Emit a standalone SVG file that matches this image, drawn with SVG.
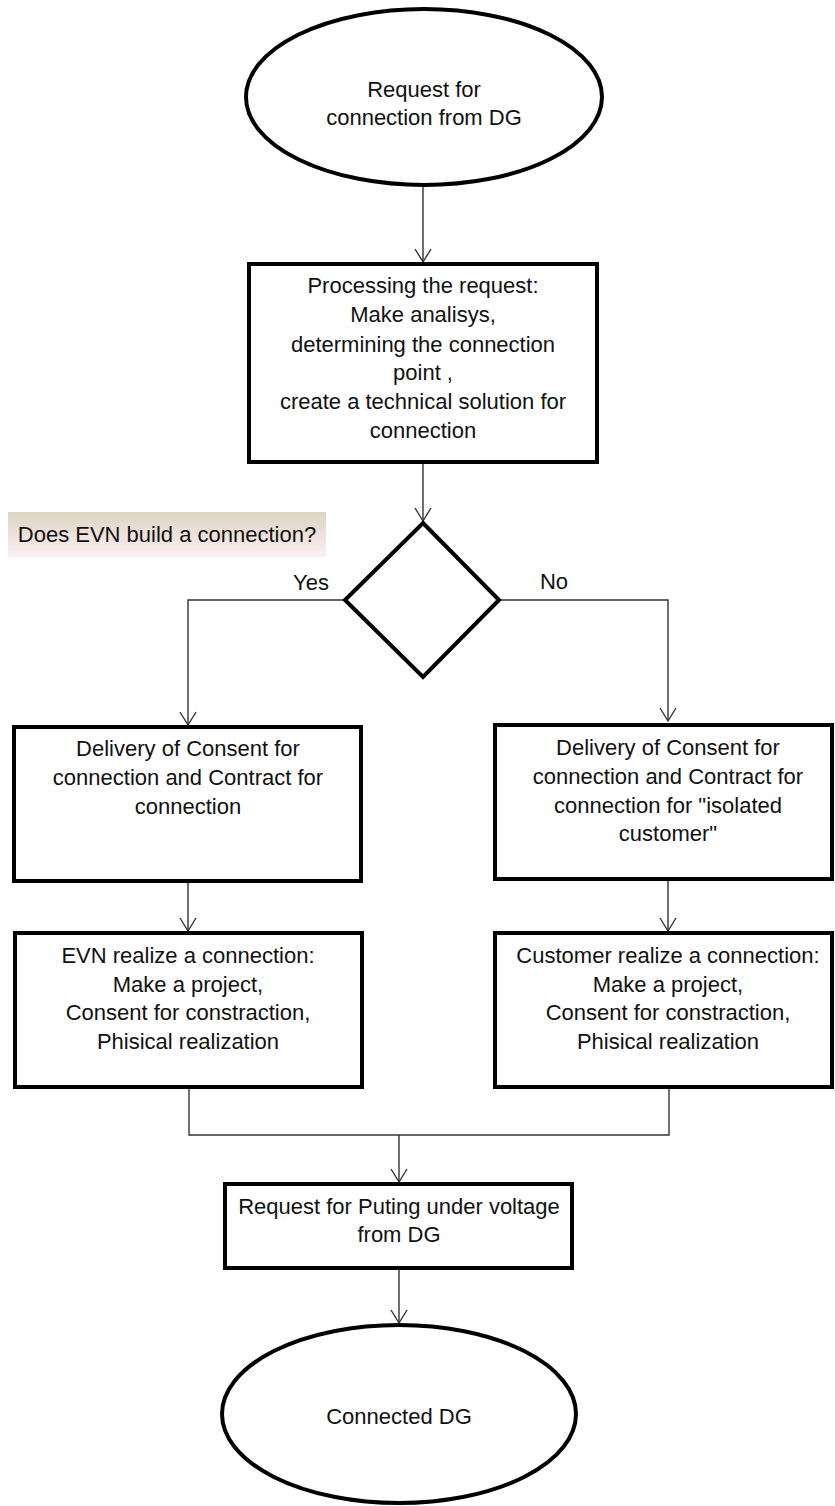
<svg xmlns="http://www.w3.org/2000/svg" width="835" height="1506" viewBox="0 0 835 1506">
  <style>
    .shape { fill: #ffffff; stroke: #000000; stroke-width: 4; }
    .txt { font-family: "Liberation Sans", Arial, sans-serif; font-size: 22px; fill: #111111; text-anchor: middle; }
    .wire { fill: none; stroke: #333333; stroke-width: 1.4; }
    .arrow { marker-end: url(#vhead); }
  </style>
  <defs>
    <marker id="vhead" markerUnits="userSpaceOnUse" viewBox="-15 -10 17 20" refX="0" refY="0" markerWidth="17" markerHeight="20" orient="auto" overflow="visible">
      <path d="M-13,-8 L0,0 L-13,8" fill="none" stroke="#333333" stroke-width="1.4"/>
    </marker>
    <linearGradient id="labelFill" x1="0" y1="0" x2="0" y2="1">
      <stop offset="0" stop-color="#dcd5c1"/>
      <stop offset="1" stop-color="#fdeef4"/>
    </linearGradient>
  </defs>

  <rect width="835" height="1506" fill="#ffffff"/>

  <!-- connectors -->
  <g id="connectors">
    <path class="wire arrow" d="M423,186 V262"/>
    <path class="wire arrow" d="M423,464 V521"/>
    <path class="wire arrow" d="M345,600 H188 V725"/>
    <path class="wire arrow" d="M499,600 H668 V721"/>
    <path class="wire arrow" d="M188,883 V931"/>
    <path class="wire arrow" d="M668,881 V931"/>
    <path class="wire" d="M189,1089 V1135 H669 V1089"/>
    <path class="wire arrow" d="M399,1135 V1182"/>
    <path class="wire arrow" d="M399,1270 V1323"/>
  </g>

  <!-- start -->
  <g id="start">
    <ellipse class="shape" cx="424" cy="97" rx="178" ry="88"/>
    <text class="txt" x="424" y="97">Request for</text>
    <text class="txt" x="424" y="125">connection from DG</text>
  </g>

  <!-- processing -->
  <g id="processing">
    <rect class="shape" x="249" y="264" width="348" height="198"/>
    <text class="txt" x="423" y="293">Processing the request:</text>
    <text class="txt" x="423" y="322">Make analisys,</text>
    <text class="txt" x="423" y="352">determining the connection</text>
    <text class="txt" x="423" y="380">point ,</text>
    <text class="txt" x="423" y="409">create a technical solution for</text>
    <text class="txt" x="423" y="438">connection</text>
  </g>

  <!-- question label -->
  <g id="question">
    <rect x="8" y="512" width="318" height="45" fill="url(#labelFill)"/>
    <text class="txt" x="167" y="542">Does EVN build a connection?</text>
  </g>

  <!-- decision -->
  <g id="decision">
    <polygon class="shape" points="423,523 499,600 423,677 345,600"/>
    <text class="txt" x="311" y="590">Yes</text>
    <text class="txt" x="554" y="589">No</text>
  </g>

  <!-- EVN branch -->
  <g id="consent-evn">
    <rect class="shape" x="14" y="727" width="347" height="154"/>
    <text class="txt" x="188" y="756">Delivery of Consent for</text>
    <text class="txt" x="188" y="785">connection and Contract for</text>
    <text class="txt" x="188" y="814">connection</text>
  </g>

  <g id="realize-evn">
    <rect class="shape" x="15" y="933" width="347" height="154"/>
    <text class="txt" x="188" y="963">EVN realize a connection:</text>
    <text class="txt" x="188" y="992">Make a project,</text>
    <text class="txt" x="188" y="1020">Consent for constraction,</text>
    <text class="txt" x="188" y="1049">Phisical realization</text>
  </g>

  <!-- customer branch -->
  <g id="consent-customer">
    <rect class="shape" x="495" y="725" width="337" height="154"/>
    <text class="txt" x="668" y="755">Delivery of Consent for</text>
    <text class="txt" x="668" y="784">connection and Contract for</text>
    <text class="txt" x="668" y="813">connection for "isolated</text>
    <text class="txt" x="668" y="841">customer"</text>
  </g>

  <g id="realize-customer">
    <rect class="shape" x="495" y="933" width="337" height="154"/>
    <text class="txt" x="668" y="963">Customer realize a connection:</text>
    <text class="txt" x="668" y="992">Make a project,</text>
    <text class="txt" x="668" y="1020">Consent for constraction,</text>
    <text class="txt" x="668" y="1049">Phisical realization</text>
  </g>

  <!-- voltage request -->
  <g id="voltage-request">
    <rect class="shape" x="225" y="1184" width="347" height="84"/>
    <text class="txt" x="399" y="1214">Request for Puting under voltage</text>
    <text class="txt" x="399" y="1242">from DG</text>
  </g>

  <!-- end -->
  <g id="end">
    <ellipse class="shape" cx="399" cy="1414" rx="177" ry="89"/>
    <text class="txt" x="399" y="1424">Connected DG</text>
  </g>
</svg>
